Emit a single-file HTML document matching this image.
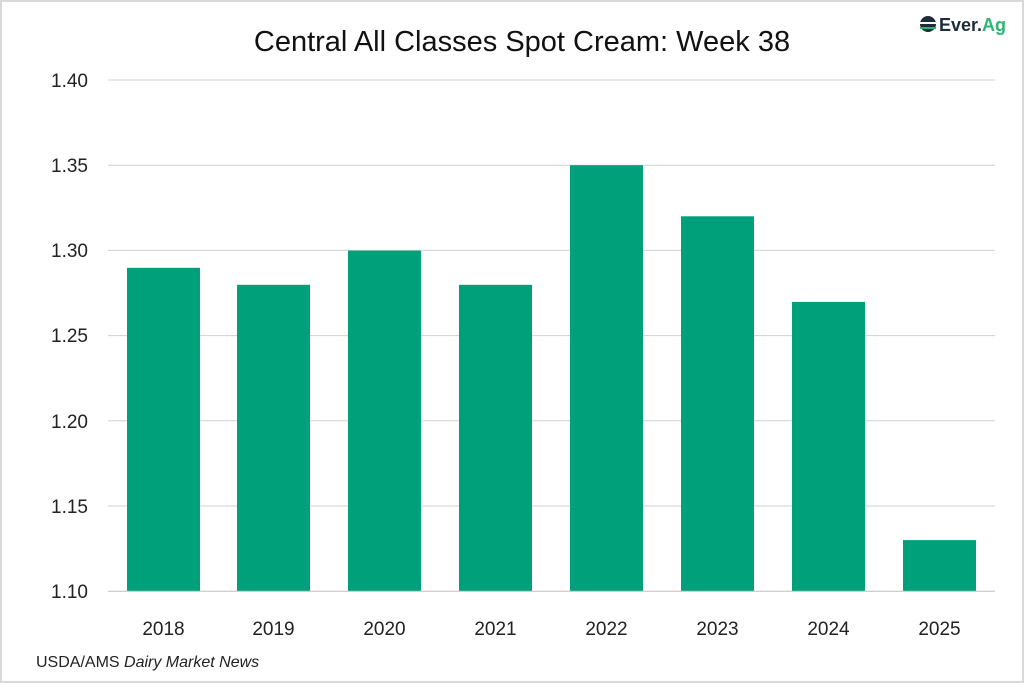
<!DOCTYPE html>
<html><head><style>
body{margin:0;background:#fff}
svg{display:block;font-family:"Liberation Sans",sans-serif}
</style></head><body>
<svg width="1024" height="683" viewBox="0 0 1024 683">
<rect x="1" y="1" width="1022" height="681" fill="#fff" stroke="#d9d9d9" stroke-width="2"/>
<text x="522" y="51" font-size="29" text-anchor="middle" fill="#111">Central All Classes Spot Cream: Week 38</text>
<g stroke="#d0d0d0" stroke-width="1">
<line x1="108" x2="995" y1="80" y2="80"/>
<line x1="108" x2="995" y1="165.2" y2="165.2"/>
<line x1="108" x2="995" y1="250.4" y2="250.4"/>
<line x1="108" x2="995" y1="335.6" y2="335.6"/>
<line x1="108" x2="995" y1="420.8" y2="420.8"/>
<line x1="108" x2="995" y1="506" y2="506"/>
</g>
<g font-size="19" fill="#222" text-anchor="end">
<text x="88" y="87">1.40</text>
<text x="88" y="172">1.35</text>
<text x="88" y="257">1.30</text>
<text x="88" y="342">1.25</text>
<text x="88" y="428">1.20</text>
<text x="88" y="513">1.15</text>
<text x="88" y="598">1.10</text>
</g>
<g fill="#00a07a">
<rect x="127" y="267.8" width="73" height="323.4"/>
<rect x="237" y="284.8" width="73" height="306.4"/>
<rect x="348" y="250.6" width="73" height="340.6"/>
<rect x="459" y="284.8" width="73" height="306.4"/>
<rect x="570" y="165.2" width="73" height="426"/>
<rect x="681" y="216.3" width="73" height="374.9"/>
<rect x="792" y="301.9" width="73" height="289.3"/>
<rect x="903" y="540.1" width="73" height="51.1"/>
</g>
<line x1="108" x2="995" y1="591.2" y2="591.2" stroke="#bfbfbf" stroke-width="1"/>
<g font-size="19" fill="#222" text-anchor="middle">
<text x="163.5" y="635">2018</text>
<text x="273.5" y="635">2019</text>
<text x="384.5" y="635">2020</text>
<text x="495.5" y="635">2021</text>
<text x="606.5" y="635">2022</text>
<text x="717.5" y="635">2023</text>
<text x="828.5" y="635">2024</text>
<text x="939.5" y="635">2025</text>
</g>
<text x="36" y="667" font-size="16" fill="#222">USDA/AMS <tspan font-style="italic">Dairy Market News</tspan></text>
<g>
<circle cx="928" cy="24" r="8" fill="#1e2d3b"/>
<rect x="920" y="22" width="16" height="2" fill="#fff"/>
<rect x="920" y="27" width="16" height="2" fill="#2bb673"/>
<text x="939" y="31" font-size="18" font-weight="bold" fill="#1e2d3b">Ever.<tspan fill="#2bb673">Ag</tspan></text>
</g>
</svg>
</body></html>
